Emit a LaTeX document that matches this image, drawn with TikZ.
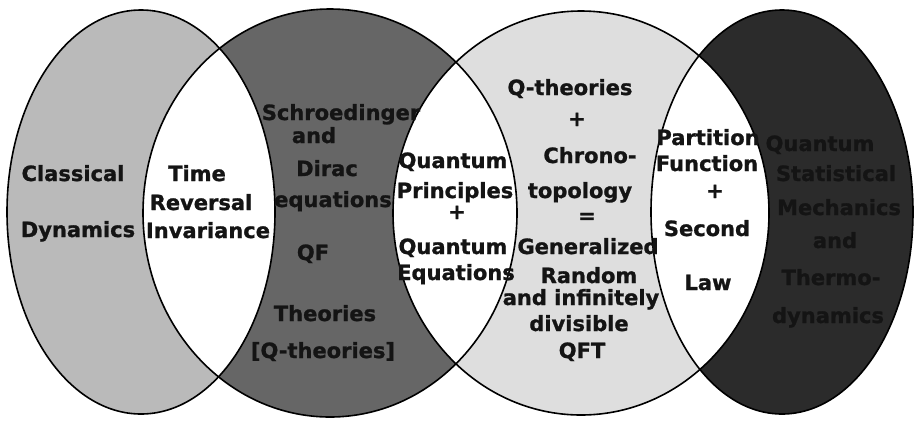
\documentclass[tikz,border=0pt]{standalone}
\usepackage{fontspec}
\setmainfont{DejaVu Sans}[BoldFeatures={FakeBold=1.1}]
\begin{document}
\begin{tikzpicture}[x=1pt,y=-1pt,
  txt/.style={font=\bfseries\fontsize{21}{21}\selectfont, inner sep=0pt, anchor=base, text=black!92},
  outl/.style={draw=black, line width=1.6pt},
  cA/.style={fill=black!27},
  cB/.style={fill=black!60},
  cC/.style={fill=black!13},
  cD/.style={fill=black!83}]
\useasboundingbox (0,0) rectangle (915,421);
\fill[white] (0,0) rectangle (915,421);
% ellipse centres
\coordinate (e1) at (141,212);
\coordinate (e2) at (330,213);
\coordinate (e3) at (581,213);
\coordinate (e4) at (782,212);
\def\ea{(e1) ellipse [x radius=134pt, y radius=202pt]}
\def\eb{(e2) ellipse [x radius=187pt, y radius=204pt]}
\def\ec{(e3) ellipse [x radius=188pt, y radius=202pt]}
\def\ed{(e4) ellipse [x radius=131pt, y radius=202pt]}
% fills
\fill[cA] \ea;
\fill[cB] \eb;
\fill[cC] \ec;
\fill[cD] \ed;
% white lenses
\begin{scope}\clip \ea; \fill[white] \eb; \end{scope}
\begin{scope}\clip \eb; \fill[white] \ec; \end{scope}
\begin{scope}\clip \ec; \fill[white] \ed; \end{scope}
% outlines
\draw[outl] \ea;
\draw[outl] \eb;
\draw[outl] \ec;
\draw[outl] \ed;
% Classical Dynamics
\node[txt] (cl1) at (73,181) {Classical};
\node[txt] (cl2) at (78,237) {Dynamics};
% Time Reversal Invariance
\node[txt] (tr1) at (197,181) {Time};
\node[txt] (tr2) at (201,210) {Reversal};
\node[txt] (tr3) at (208,238) {Invariance};
% Schroedinger ...
\node[txt] (sd1) at (341,120) {Schroedinger};
\node[txt] (sd2) at (314,143) {and};
\node[txt] (sd3) at (327,176) {Dirac};
\node[txt] (sd4) at (333,207) {equations};
\node[txt] (sd5) at (313,260) {QF};
\node[txt] (sd6) at (325,321) {Theories};
\node[txt] (sd7) at (323,358) {[Q-theories]};
% Quantum Principles
\node[txt] (qp1) at (453,168) {Quantum};
\node[txt] (qp2) at (455,198) {Principles};
\node[txt] (qp3) at (457,219) {+};
\node[txt] (qp4) at (453,254) {Quantum};
\node[txt] (qp5) at (456,280) {Equations};
% Q-theories + Chrono-topology
\node[txt] (qt1) at (570,95) {Q-theories};
\node[txt] (qt2) at (577,126) {+};
\node[txt] (qt3) at (590,163) {Chrono-};
\node[txt] (qt4) at (580,198) {topology};
\node[txt] (qt5) at (587,223) {=};
\node[txt] (qt6) at (588,254) {Generalized};
\node[txt] (qt7) at (589,283) {Random};
\node[txt] (qt8) at (581,305) {and infinitely};
\node[txt] (qt9) at (579,331) {divisible};
\node[txt] (qt10) at (582,358) {QFT};
% Partition Function
\node[txt] (pf1) at (708,145) {Partition};
\node[txt] (pf2) at (707,171) {Function};
\node[txt] (pf3) at (715,198) {+};
\node[txt] (pf4) at (707,236) {Second};
\node[txt] (pf5) at (708,290) {Law};
% Quantum Statistical Mechanics
\node[txt] (qs1) at (820,151) {Quantum};
\node[txt] (qs2) at (836,181) {Statistical};
\node[txt] (qs3) at (839,215) {Mechanics};
\node[txt] (qs4) at (835,248) {and};
\node[txt] (qs5) at (831,285) {Thermo-};
\node[txt] (qs6) at (828,323) {dynamics};
\end{tikzpicture}
\end{document}
